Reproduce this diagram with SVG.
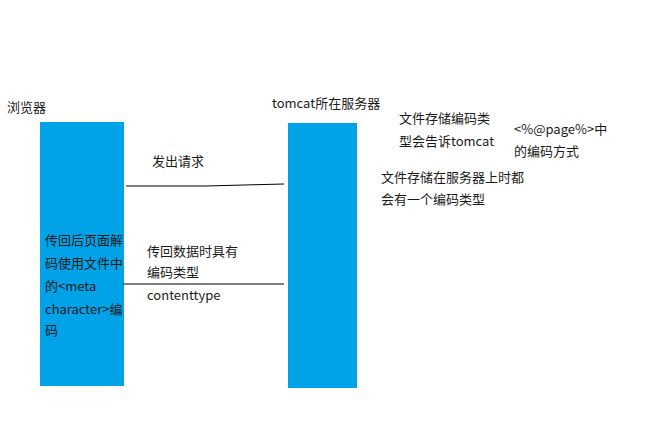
<svg xmlns="http://www.w3.org/2000/svg" width="649" height="431" viewBox="0 0 649 431">
<style>
.t{font-family:"Noto Sans CJK SC","Noto Sans",sans-serif;font-size:13px;fill:#1a1a1a}
.b{fill:#00a2e8}
.c{stroke:#000;stroke-width:1;fill:none}
</style>
<rect width="649" height="431" fill="#fff"/>
<g id="browser">
<rect class="b" x="40" y="122" width="84" height="264"/>
<text class="t" x="7" y="112">浏览器</text>
<text class="t" x="45" y="245">传回后页面解</text>
<text class="t" x="45" y="268">码使用文件中</text>
<text class="t" x="45" y="291">的&lt;meta</text>
<text class="t" x="45" y="314">character&gt;编</text>
<text class="t" x="45" y="335">码</text>
</g>
<g id="server">
<rect class="b" x="288" y="123" width="69" height="265"/>
<text class="t" x="272" y="108">tomcat所在服务器</text>
</g>
<g id="notes">
<text class="t" x="399" y="123">文件存储编码类</text>
<text class="t" x="399" y="146">型会告诉tomcat</text>
<text class="t" x="514" y="134">&lt;%@page%&gt;中</text>
<text class="t" x="514" y="156">的编码方式</text>
<text class="t" x="381" y="182">文件存储在服务器上时都</text>
<text class="t" x="381" y="204">会有一个编码类型</text>
</g>
<g id="connectors">
<path class="c" d="M126 186 L205 186 L284 184"/>
<text class="t" x="152" y="166">发出请求</text>
<line class="c" x1="123" y1="284" x2="284" y2="284"/>
<text class="t" x="147" y="256">传回数据时具有</text>
<text class="t" x="147" y="277">编码类型</text>
<text class="t" x="147" y="300">contenttype</text>
</g>
</svg>
